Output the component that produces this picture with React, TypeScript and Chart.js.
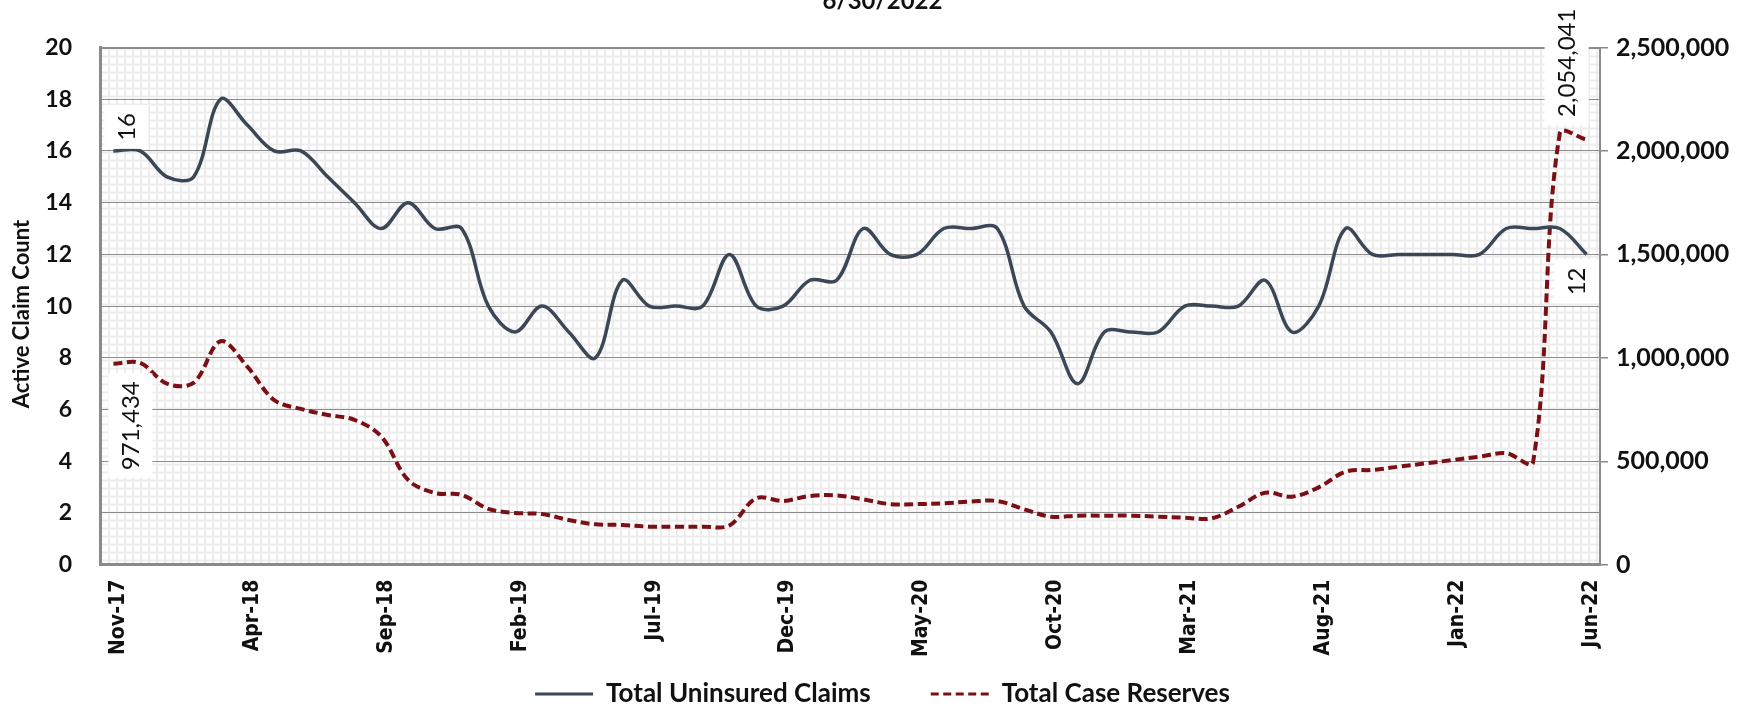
import React, { useEffect, useRef } from 'react';
import { Chart, registerables } from 'chart.js';

Chart.register(...registerables);

const months = [
  'Nov-17', 'Dec-17',
  'Jan-18', 'Feb-18', 'Mar-18', 'Apr-18', 'May-18', 'Jun-18', 'Jul-18', 'Aug-18', 'Sep-18', 'Oct-18', 'Nov-18', 'Dec-18',
  'Jan-19', 'Feb-19', 'Mar-19', 'Apr-19', 'May-19', 'Jun-19', 'Jul-19', 'Aug-19', 'Sep-19', 'Oct-19', 'Nov-19', 'Dec-19',
  'Jan-20', 'Feb-20', 'Mar-20', 'Apr-20', 'May-20', 'Jun-20', 'Jul-20', 'Aug-20', 'Sep-20', 'Oct-20', 'Nov-20', 'Dec-20',
  'Jan-21', 'Feb-21', 'Mar-21', 'Apr-21', 'May-21', 'Jun-21', 'Jul-21', 'Aug-21', 'Sep-21', 'Oct-21', 'Nov-21', 'Dec-21',
  'Jan-22', 'Feb-22', 'Mar-22', 'Apr-22', 'May-22', 'Jun-22',
];

const shownTickLabels = [
  'Nov-17', 'Apr-18', 'Sep-18', 'Feb-19', 'Jul-19', 'Dec-19',
  'May-20', 'Oct-20', 'Mar-21', 'Aug-21', 'Jan-22', 'Jun-22',
];

const uninsuredClaims = [
  16, 16, 15, 15, 18, 17, 16, 16, 15, 14, 13, 14, 13, 13,
  10, 9, 10, 9, 8, 11, 10, 10, 10, 12, 10, 10, 11, 11,
  13, 12, 12, 13, 13, 13, 10, 9, 7, 9, 9, 9, 10, 10,
  10, 11, 9, 10, 13, 12, 12, 12, 12, 12, 13, 13, 13, 12,
];

const caseReserves = [
  971434, 975000, 875000, 880000, 1080000, 957000, 796000, 753000, 724000, 700000,
  620000, 410000, 347000, 338000, 270000, 250000, 245000, 216000, 195000, 192000,
  184000, 184000, 184000, 190000, 321000, 308000, 332000, 335000, 316000, 293000,
  293000, 297000, 305000, 308000, 268000, 232000, 237000, 237000, 237000, 232000,
  227000, 224000, 280000, 348000, 329000, 374000, 450000, 458000, 474000, 490000,
  506000, 522000, 539000, 495000, 2085000, 2054041,
];

const leftTicks = { min: 0, max: 20, step: 2 };
const rightTicks = { min: 0, max: 2500000, step: 500000 };

const chartTitle = '6/30/2022';
const leftAxisTitle = 'Active Claim Count';

// data labels shown on the chart (dataset index, point index, offset from point)
const dataLabelSpecs = [
  { ds: 0, idx: 0, dx: 13, dy: -24 },
  { ds: 1, idx: 0, dx: 17, dy: 62 },
  { ds: 1, idx: 55, dx: -20, dy: -77 },
  { ds: 0, idx: 55, dx: -10, dy: 27 },
];

const TEXT = '#111111';
const AXIS_GRAY = '#8a8a8a';
const MAIN_FONT = 'Lato, "Open Sans", sans-serif';
const XTICK_FONT = '"DejaVu Sans Condensed", "DejaVu Sans", sans-serif';
const XTICK_SIZE = 21;
const XTICK_LINE_HEIGHT = 1.2;
const LEFT_PAD = 4;

const patternPlugin = {
  id: 'plotPattern',
  beforeDraw(chart: any) {
    const { ctx, chartArea } = chart;
    if (!chartArea) return;
    const tile = document.createElement('canvas');
    tile.width = 8;
    tile.height = 8;
    const t = tile.getContext('2d')!;
    t.fillStyle = '#ffffff';
    t.fillRect(0, 0, 8, 8);
    t.fillStyle = '#ececec';
    t.fillRect(0, 0, 8, 2);
    t.fillRect(0, 0, 2, 8);
    const pat = ctx.createPattern(tile, 'repeat');
    if (pat && (pat as any).setTransform) {
      (pat as any).setTransform(new DOMMatrix().translate(chartArea.left, chartArea.top));
    }
    ctx.save();
    ctx.fillStyle = pat || '#ffffff';
    ctx.fillRect(chartArea.left, chartArea.top, chartArea.right - chartArea.left, chartArea.bottom - chartArea.top);
    ctx.restore();
  },
};

const axisTitlePlugin = {
  id: 'leftAxisTitle',
  afterDraw(chart: any) {
    const { ctx, chartArea } = chart;
    ctx.save();
    ctx.font = `bold 22px ${MAIN_FONT}`;
    ctx.fillStyle = TEXT;
    ctx.textAlign = 'center';
    ctx.textBaseline = 'middle';
    ctx.translate(22, (chartArea.top + chartArea.bottom) / 2 + 8);
    ctx.rotate(-Math.PI / 2);
    ctx.fillText(leftAxisTitle, 0, 0);
    ctx.restore();
  },
};

const dataLabelPlugin = {
  id: 'rotatedDataLabels',
  afterDatasetsDraw(chart: any) {
    const { ctx } = chart;
    ctx.save();
    ctx.font = `normal 24px ${MAIN_FONT}`;
    dataLabelSpecs.forEach((s) => {
      const meta = chart.getDatasetMeta(s.ds);
      const el = meta.data[s.idx];
      if (!el) return;
      const value = chart.data.datasets[s.ds].data[s.idx] as number;
      const text = value.toLocaleString('en-US');
      const tw = ctx.measureText(text).width;
      const cx = el.x + s.dx;
      const cy = el.y + s.dy;
      const len = tw + 16;
      ctx.fillStyle = '#ffffff';
      ctx.fillRect(cx - 22, cy - len / 2, 44, len);
      ctx.save();
      ctx.translate(cx, cy);
      ctx.rotate(-Math.PI / 2);
      ctx.textAlign = 'center';
      ctx.textBaseline = 'middle';
      ctx.fillStyle = TEXT;
      ctx.fillText(text, 0, 1);
      ctx.restore();
    });
    ctx.restore();
  },
};

export default function App() {
  const canvasRef = useRef<HTMLCanvasElement | null>(null);

  useEffect(() => {
    if (!canvasRef.current) return;
    const chart = new Chart(canvasRef.current, {
      type: 'line',
      data: {
        labels: months,
        datasets: [
          {
            label: 'Total Uninsured Claims',
            data: uninsuredClaims,
            yAxisID: 'y',
            borderColor: '#3b4657',
            backgroundColor: '#3b4657',
            borderWidth: 3.5,
            pointRadius: 0,
            pointHoverRadius: 0,
            tension: 0.35,
            fill: false,
          },
          {
            label: 'Total Case Reserves',
            data: caseReserves,
            yAxisID: 'y1',
            borderColor: '#7a1015',
            backgroundColor: '#7a1015',
            borderWidth: 4,
            borderDash: [9, 4.5],
            pointRadius: 0,
            pointHoverRadius: 0,
            tension: 0.35,
            fill: false,
          },
        ],
      },
      options: {
        responsive: false,
        animation: false,
        events: [],
        layout: { padding: { left: LEFT_PAD, right: 0, top: 0, bottom: -7 } },
        plugins: {
          title: {
            display: true,
            text: chartTitle,
            color: TEXT,
            font: { family: MAIN_FONT, size: 24, weight: 'bold', lineHeight: 1.2 },
            padding: { top: -13, bottom: 31.7 },
          },
          legend: {
            position: 'bottom',
            labels: {
              usePointStyle: true,
              pointStyle: 'line',
              pointStyleWidth: 58,
              padding: 60,
              color: TEXT,
              font: { family: MAIN_FONT, size: 26, weight: 'bold', lineHeight: 1.2 },
              generateLabels: (chart: any) => {
                const items = (Chart.defaults.plugins.legend.labels as any).generateLabels(chart);
                return items.map((it: any) => {
                  const ds = chart.data.datasets[it.datasetIndex];
                  return {
                    ...it,
                    lineWidth: 3,
                    lineDash: ds.borderDash ? [8, 4.5] : [],
                    strokeStyle: ds.borderColor,
                    fillStyle: ds.borderColor,
                  };
                });
              },
            },
          },
          tooltip: { enabled: false },
        },
        scales: {
          x: {
            type: 'category',
            offset: true,
            grid: { display: false, drawTicks: false },
            border: { display: true, color: AXIS_GRAY, width: 3 },
            ticks: {
              autoSkip: false,
              minRotation: 90,
              maxRotation: 90,
              mirror: true,
              padding: -15,
              labelOffset: XTICK_SIZE * XTICK_LINE_HEIGHT + 5,
              color: TEXT,
              font: { family: XTICK_FONT, size: XTICK_SIZE, weight: 'bold', lineHeight: XTICK_LINE_HEIGHT },
              callback: (_v: any, idx: number) =>
                shownTickLabels.includes(months[idx]) ? months[idx] : '',
            },
            afterFit: (s: any) => {
              s.height = 56.3;
            },
          },
          y: {
            position: 'left',
            min: leftTicks.min,
            max: leftTicks.max,
            ticks: {
              stepSize: leftTicks.step,
              padding: 28,
              color: TEXT,
              font: { family: MAIN_FONT, size: 23, weight: 'bold' },
            },
            grid: {
              color: '#8c8c8c',
              lineWidth: (c: any) => (c.tick && c.tick.value === leftTicks.max ? 2 : 1),
              drawTicks: false,
            },
            border: { display: true, color: AXIS_GRAY, width: 3 },
            afterFit: (s: any) => {
              s.width = 100 - LEFT_PAD;
            },
          },
          y1: {
            position: 'right',
            min: rightTicks.min,
            max: rightTicks.max,
            ticks: {
              stepSize: rightTicks.step,
              padding: 8,
              color: TEXT,
              font: { family: MAIN_FONT, size: 25, weight: 'bold' },
              callback: (v: any) => Number(v).toLocaleString('en-US'),
            },
            grid: {
              drawOnChartArea: false,
              drawTicks: true,
              tickLength: 8,
              color: AXIS_GRAY,
              lineWidth: 1.5,
            },
            border: { display: true, color: AXIS_GRAY, width: 2 },
            afterFit: (s: any) => {
              s.width = 161;
            },
          },
        },
      } as any,
      plugins: [patternPlugin, dataLabelPlugin, axisTitlePlugin],
    });
    return () => chart.destroy();
  }, []);

  return (
    <div style={{ position: 'absolute', left: 0, top: 0, width: 1761, height: 710, background: '#ffffff' }}>
      <canvas
        ref={canvasRef}
        width={1761}
        height={710}
        style={{ display: 'block', width: 1761, height: 710 }}
      />
    </div>
  );
}
